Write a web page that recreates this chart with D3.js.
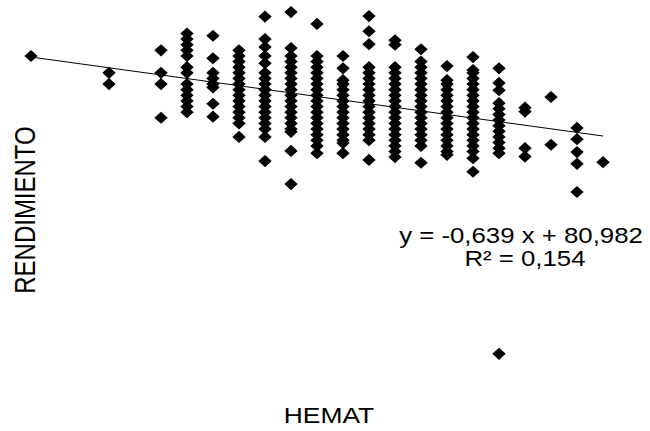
<!DOCTYPE html>
<html>
<head>
<meta charset="utf-8">
<script src="https://cdn.jsdelivr.net/npm/d3@7"></script>
<style>
  body { margin: 0; background: #fff; }
  svg { display: block; font-family: Arial, "Liberation Sans", sans-serif; }
</style>
</head>
<body>
<div id="chart"></div>
<script>
// HEMAT columns and the RENDIMIENTO values read for each one
var hemat = [30, 33, 35, 36, 37, 38, 39, 40, 41, 42, 43, 44, 45, 46, 47, 48, 49, 50, 51, 52];
var rendimiento = [
    [62],
    [59, 57],
    [63, 59, 57, 51],
    [66, 65, 64, 63, 62, 60, 59, 57, 56, 55, 54, 53, 52],
    [65.6, 61.6, 59, 58, 57, 56.4, 53.5, 51.2],
    [63, 62, 61, 60, 59, 58, 57, 56, 55, 54, 53, 52, 51, 50, 47.6],
    [69, 65, 63.6, 62, 60.7, 59, 58, 57, 56, 55, 54, 53, 52, 51, 50, 49, 47.6, 43.3],
    [69.8, 63.4, 62, 61, 60, 59, 58, 57, 56, 55, 54, 53, 52, 51, 50, 49, 48.5, 45.1, 39.2],
    [67.7, 62, 61, 60, 59, 58, 57, 56, 55, 54, 53, 52, 51, 50, 49, 48, 47, 46, 44.7],
    [62, 59.8, 57.7, 57, 56, 55, 54, 53, 52, 51, 50, 49, 48, 47, 46.5, 44.7],
    [69.1, 66.4, 64.1, 60, 59, 58, 57, 56, 55, 54, 53, 52, 51, 50, 49, 48, 47, 43.5],
    [64.8, 64, 60, 59, 58, 57, 56, 55, 54, 53, 52, 51, 50, 49, 48, 47, 46, 45, 44],
    [63.2, 61, 60, 59, 58, 57, 56, 55, 54, 53, 52, 51, 50, 49, 48, 47, 46, 43],
    [60.2, 57.7, 57, 56, 55, 54, 53, 52, 51, 50, 49, 48, 47, 46, 45, 44.4],
    [61.8, 59.5, 59, 58, 57, 56, 55, 54, 53, 52, 51, 50, 49, 48, 47, 46, 45, 43.8, 41.4],
    [59.8, 57.2, 55.9, 53.6, 52.6, 51.6, 50.6, 49.6, 48.6, 47.6, 46.6, 45.6, 44.7, 9],
    [52.8, 52.1, 45.6, 44.1],
    [54.7, 46.2],
    [49.2, 47.2, 44.9, 42.8, 37.8],
    [43.1]
];
// trend line reported on the chart
var slope = -0.639;
var intercept = 80.982;
var eqLabel = 'y = -0,639 x + 80,982';
var r2Label = 'R² = 0,154';
var xTitle = 'HEMAT';
var yTitle = 'RENDIMIENTO';

var width = 650;
var height = 431;
var stretch = 1.2; // the original picture is wider than tall, text included

var points = [];
hemat.forEach(function(h, i) {
    rendimiento[i].forEach(function(r) {
        points.push({x: h, y: r});
    });
});

var x = d3.scaleLinear().domain([30, 52]).range([31, 603]);
var y = d3.scaleLinear().domain([0, 70]).range([404.4, 11]);

var svg = d3.select('#chart')
    .append('svg')
    .attr('width', width)
    .attr('height', height);

// regression line
var xr = d3.extent(hemat);
svg.append('line')
    .attr('x1', x(xr[0]))
    .attr('y1', y(slope * xr[0] + intercept))
    .attr('x2', x(xr[1]))
    .attr('y2', y(slope * xr[1] + intercept))
    .style('stroke', '#000')
    .style('stroke-width', 1);

var diamond = d3.symbol().type(d3.symbolSquare).size(74);

svg.selectAll('.pt')
    .data(points)
    .enter().append('path')
    .attr('class', 'pt')
    .attr('d', diamond)
    .attr('transform', function(d) {
        return 'translate(' + x(d.x) + ',' + y(d.y) + ') scale(1.1,1) rotate(45)';
    })
    .style('fill', '#000');

function label(tx, ty, str, size, rot) {
    svg.append('text')
        .attr('transform', 'translate(' + tx + ',' + ty + ') scale(' + stretch + ',1)' + (rot ? ' rotate(' + rot + ')' : ''))
        .attr('text-anchor', 'middle')
        .style('font-size', size + 'px')
        .text(str);
}

label(521, 243, eqLabel, 21.5);
label(525, 266, r2Label, 21.5);
label(329, 423, xTitle, 22);
label(35, 210, yTitle, 24, -90);
</script>
</body>
</html>
